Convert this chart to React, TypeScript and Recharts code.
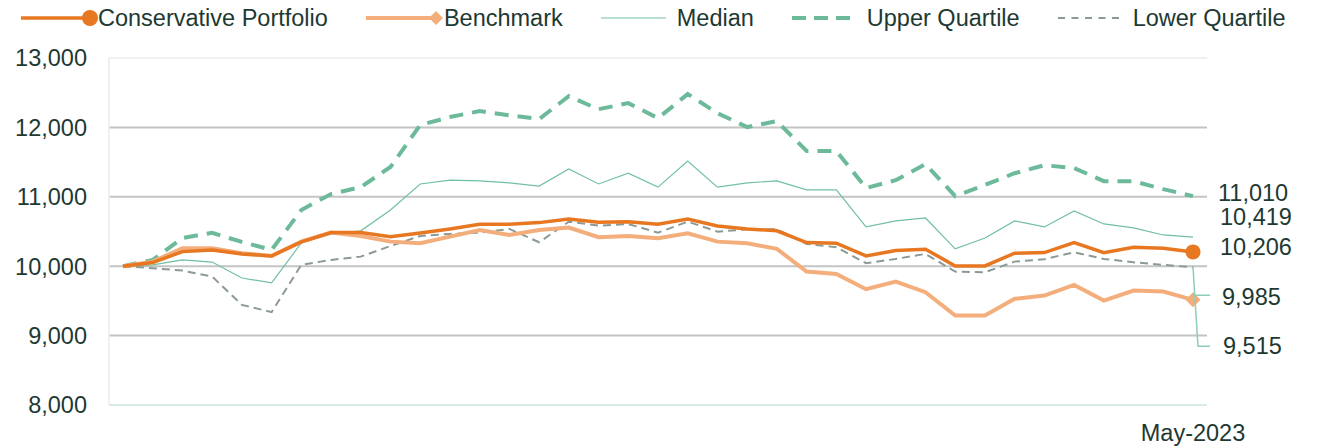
import React from 'react';
import { LineChart, Line, XAxis, YAxis, ReferenceLine } from 'recharts';

const months = [
  'May-2020', 'Jun-2020', 'Jul-2020', 'Aug-2020', 'Sep-2020', 'Oct-2020', 'Nov-2020', 'Dec-2020',
  'Jan-2021', 'Feb-2021', 'Mar-2021', 'Apr-2021', 'May-2021', 'Jun-2021', 'Jul-2021', 'Aug-2021',
  'Sep-2021', 'Oct-2021', 'Nov-2021', 'Dec-2021', 'Jan-2022', 'Feb-2022', 'Mar-2022', 'Apr-2022',
  'May-2022', 'Jun-2022', 'Jul-2022', 'Aug-2022', 'Sep-2022', 'Oct-2022', 'Nov-2022', 'Dec-2022',
  'Jan-2023', 'Feb-2023', 'Mar-2023', 'Apr-2023', 'May-2023',
];

const portfolio = [10000, 10052, 10210, 10235, 10177, 10148, 10350, 10484, 10484, 10426, 10478, 10537, 10604, 10604, 10628, 10680, 10632, 10642, 10604, 10680, 10580, 10537, 10510, 10340, 10331, 10148, 10225, 10245, 10004, 10004, 10187, 10196, 10340, 10196, 10273, 10259, 10206];
const benchmark = [10000, 10066, 10259, 10259, 10187, 10148, 10354, 10484, 10436, 10354, 10331, 10426, 10522, 10450, 10522, 10556, 10417, 10436, 10403, 10475, 10354, 10331, 10250, 9922, 9889, 9669, 9778, 9626, 9290, 9290, 9530, 9577, 9731, 9505, 9649, 9634, 9515];
const median = [10000, 10020, 10090, 10060, 9830, 9760, 10335, 10465, 10510, 10810, 11185, 11240, 11230, 11200, 11155, 11400, 11185, 11340, 11140, 11515, 11140, 11200, 11230, 11100, 11100, 10566, 10652, 10695, 10250, 10407, 10652, 10566, 10795, 10609, 10551, 10450, 10419];
const upperQuartile = [10000, 10090, 10407, 10480, 10350, 10235, 10810, 11040, 11140, 11430, 12035, 12150, 12235, 12175, 12120, 12450, 12262, 12350, 12133, 12480, 12205, 12005, 12090, 11660, 11660, 11126, 11240, 11470, 11010, 11170, 11340, 11455, 11415, 11225, 11225, 11110, 11010];
const lowerQuartile = [10000, 9971, 9937, 9850, 9443, 9338, 10019, 10091, 10138, 10292, 10436, 10465, 10484, 10537, 10345, 10642, 10584, 10608, 10484, 10642, 10498, 10532, 10532, 10321, 10273, 10043, 10105, 10177, 9922, 9913, 10066, 10101, 10201, 10105, 10057, 10019, 9985];

const yTicks = [8000, 9000, 10000, 11000, 12000, 13000];
const gridValues = [9000, 10000, 11000, 12000];
const xTicks = ['May-2023'];

const data = months.map((m, i) => ({
  month: m,
  portfolio: portfolio[i],
  benchmark: benchmark[i],
  median: median[i],
  upper: upperQuartile[i],
  lower: lowerQuartile[i],
}));

const C_PORT = '#E87722';
const C_BENCH = '#F3AE7C';
const C_MED = '#72BFA3';
const C_UPPER = '#6DBA9B';
const C_LOWER = '#8C9A95';
const C_LEADER = '#8ECDB8';
const C_TEXT = '#1E3932';
const C_FRAME = '#EBEBEB';
const FONT = '"Liberation Sans", Arial, sans-serif';
const FS = 23.5;

const last = months.length - 1;
const fmt = (v: number) => v.toLocaleString('en-US');

// label at the last point only, shifted by dx/dy (Excel moved some of them)
const endLabel = (dx: number, dy: number, leader?: boolean) => (props: any) => {
  const { x, y, value, index } = props;
  if (index !== last) return null;
  return (
    <g>
      {leader && (
        <>
          <polyline points={`${x},${y} ${x + 5},${y + 79} ${x + 17},${y + 79}`} fill="none" stroke={C_LEADER} strokeWidth={1.5} />
          <line x1={x + 1.5} y1={y + 28} x2={x + 17} y2={y + 28} stroke={C_LEADER} strokeWidth={1.5} />
        </>
      )}
      <text x={x + dx} y={y + dy} dy="0.355em" textAnchor="start" fill={C_TEXT} fontSize={FS} fontFamily={FONT}>
        {fmt(value)}
      </text>
    </g>
  );
};

const endDot = (kind: 'circle' | 'diamond', color: string) => (props: any) => {
  const { cx, cy, index } = props;
  if (index !== last) return <g key={index} />;
  if (kind === 'circle') return <circle key={index} cx={cx} cy={cy} r={7.5} fill={color} />;
  const s = 7.5;
  return <polygon key={index} points={`${cx},${cy - s} ${cx + s},${cy} ${cx},${cy + s} ${cx - s},${cy}`} fill={color} />;
};

const LegendItem = ({ w, children, label }: { w: number; children: React.ReactNode; label: string }) => (
  <div style={{ display: 'flex', alignItems: 'center', marginRight: 38 }}>
    <svg width={w} height={20} style={{ display: 'block' }}>{children}</svg>
    <span style={{ fontSize: FS, color: C_TEXT, fontFamily: FONT, lineHeight: '20px' }}>{label}</span>
  </div>
);

const ChartLegend = () => (
  <div style={{ position: 'absolute', top: 0, left: 13, display: 'flex', alignItems: 'center', height: 20, whiteSpace: 'nowrap' }}>
    <LegendItem w={77} label="Conservative Portfolio">
      <line x1={0} y1={10} x2={66} y2={10} stroke={C_PORT} strokeWidth={3.5} />
      <circle cx={69} cy={10} r={8} fill={C_PORT} />
    </LegendItem>
    <LegendItem w={78} label="Benchmark">
      <line x1={0} y1={10} x2={66} y2={10} stroke={C_BENCH} strokeWidth={4} />
      <polygon points="70,3 77,10 70,17 63,10" fill={C_BENCH} />
    </LegendItem>
    <LegendItem w={76} label="Median">
      <line x1={0} y1={10} x2={65} y2={10} stroke={C_MED} strokeWidth={1.2} />
    </LegendItem>
    <LegendItem w={75} label="Upper Quartile">
      <line x1={0} y1={10} x2={58} y2={10} stroke={C_UPPER} strokeWidth={4} strokeDasharray="14 8" />
    </LegendItem>
    <LegendItem w={75} label="Lower Quartile">
      <line x1={0} y1={10} x2={61} y2={10} stroke={C_LOWER} strokeWidth={2} strokeDasharray="7 6.5" />
    </LegendItem>
  </div>
);

export default function App() {
  return (
    <div style={{ position: 'relative', width: 1303, height: 440, fontFamily: FONT, background: '#fff' }}>
      <ChartLegend />
      <LineChart width={1303} height={440} data={data} margin={{ top: 50, right: 104, bottom: 3, left: 0 }}>
        {/* light frame: top line + both y-axis lines */}
        <ReferenceLine y={13000} stroke={C_FRAME} strokeWidth={1.5} />
        {gridValues.map((v) => (
          <ReferenceLine key={v} y={v} stroke="#C4C4C4" strokeWidth={2} />
        ))}
        <XAxis
          dataKey="month"
          ticks={xTicks}
          interval={0}
          height={40}
          tickSize={0}
          tickMargin={19}
          padding={{ left: 14, right: 14 }}
          axisLine={{ stroke: '#D9EAE4', strokeWidth: 2 }}
          tick={{ fill: C_TEXT, fontSize: FS, fontFamily: FONT }}
        />
        <YAxis
          domain={[8000, 13000]}
          ticks={yTicks}
          width={101}
          tickSize={0}
          tickMargin={22}
          axisLine={{ stroke: C_FRAME, strokeWidth: 1.5 }}
          tickLine={false}
          tickFormatter={fmt}
          tick={{ fill: C_TEXT, fontSize: FS, fontFamily: FONT }}
        />
        <YAxis
          yAxisId="frame"
          orientation="right"
          domain={[8000, 13000]}
          width={0}
          tick={false}
          tickLine={false}
          axisLine={{ stroke: C_FRAME, strokeWidth: 1.5 }}
        />
        <Line dataKey="lower" type="linear" stroke={C_LOWER} strokeWidth={2} strokeDasharray="8 5" dot={false} activeDot={false} isAnimationActive={false} label={endLabel(29, 29, true)} />
        <Line dataKey="upper" type="linear" stroke={C_UPPER} strokeWidth={4} strokeDasharray="14 9" dot={false} activeDot={false} isAnimationActive={false} label={endLabel(25, -3)} />
        <Line dataKey="median" type="linear" stroke={C_MED} strokeWidth={1.2} dot={false} activeDot={false} isAnimationActive={false} label={endLabel(27, -20)} />
        <Line dataKey="benchmark" type="linear" stroke={C_BENCH} strokeWidth={4} dot={endDot('diamond', C_BENCH)} activeDot={false} isAnimationActive={false} label={endLabel(30, 46)} />
        <Line dataKey="portfolio" type="linear" stroke={C_PORT} strokeWidth={3.5} dot={endDot('circle', C_PORT)} activeDot={false} isAnimationActive={false} label={endLabel(27, -5)} />
      </LineChart>
    </div>
  );
}
